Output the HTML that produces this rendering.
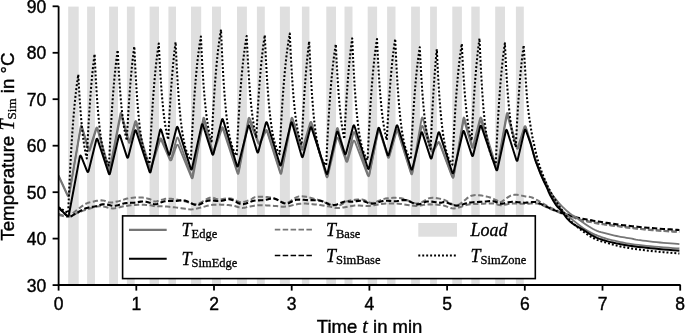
<!DOCTYPE html>
<html><head><meta charset="utf-8"><style>
html,body{margin:0;padding:0;background:#fff;width:685px;height:333px;overflow:hidden}
svg{display:block;will-change:transform}
</style></head><body>
<svg width="685" height="333" viewBox="0 0 685 333">
<rect x="68.2" y="6.6" width="10.5" height="278.4" fill="#dfdfdf"/>
<rect x="87.1" y="6.6" width="7.9" height="278.4" fill="#dfdfdf"/>
<rect x="109.1" y="6.6" width="8.9" height="278.4" fill="#dfdfdf"/>
<rect x="126.9" y="6.6" width="7.8" height="278.4" fill="#dfdfdf"/>
<rect x="149.6" y="6.6" width="9.4" height="278.4" fill="#dfdfdf"/>
<rect x="168.4" y="6.6" width="7.6" height="278.4" fill="#dfdfdf"/>
<rect x="191.0" y="6.6" width="10.2" height="278.4" fill="#dfdfdf"/>
<rect x="212.0" y="6.6" width="9.0" height="278.4" fill="#dfdfdf"/>
<rect x="237.0" y="6.6" width="9.9" height="278.4" fill="#dfdfdf"/>
<rect x="256.9" y="6.6" width="7.9" height="278.4" fill="#dfdfdf"/>
<rect x="279.9" y="6.6" width="10.0" height="278.4" fill="#dfdfdf"/>
<rect x="301.9" y="6.6" width="7.5" height="278.4" fill="#dfdfdf"/>
<rect x="326.3" y="6.6" width="9.7" height="278.4" fill="#dfdfdf"/>
<rect x="344.5" y="6.6" width="8.0" height="278.4" fill="#dfdfdf"/>
<rect x="367.7" y="6.6" width="9.4" height="278.4" fill="#dfdfdf"/>
<rect x="387.1" y="6.6" width="8.4" height="278.4" fill="#dfdfdf"/>
<rect x="411.1" y="6.6" width="8.8" height="278.4" fill="#dfdfdf"/>
<rect x="430.1" y="6.6" width="6.8" height="278.4" fill="#dfdfdf"/>
<rect x="452.3" y="6.6" width="9.6" height="278.4" fill="#dfdfdf"/>
<rect x="471.3" y="6.6" width="8.4" height="278.4" fill="#dfdfdf"/>
<rect x="495.2" y="6.6" width="9.8" height="278.4" fill="#dfdfdf"/>
<rect x="515.9" y="6.6" width="7.9" height="278.4" fill="#dfdfdf"/>
<defs><clipPath id="pc"><rect x="58.6" y="0" width="622" height="285"/></clipPath></defs>
<g clip-path="url(#pc)" fill="none" stroke-linejoin="round">
<polyline points="58.60,214.00 59.70,214.33 61.26,214.86 63.09,215.45 65.01,215.97 66.84,216.30 68.40,216.30 69.64,215.94 70.70,215.32 71.67,214.51 72.65,213.56 73.73,212.53 75.00,211.50 76.51,210.36 78.19,209.05 79.96,207.67 81.77,206.31 83.54,205.09 85.20,204.10 86.75,203.36 88.24,202.79 89.69,202.35 91.13,202.00 92.56,201.70 94.00,201.40 95.47,201.10 96.96,200.82 98.44,200.59 99.91,200.43 101.33,200.36 102.70,200.40 103.98,200.62 105.18,201.03 106.34,201.53 107.51,202.02 108.71,202.41 110.00,202.60 111.36,202.58 112.77,202.43 114.22,202.17 115.71,201.84 117.23,201.47 118.80,201.10 120.40,200.67 122.04,200.16 123.72,199.60 125.44,199.06 127.20,198.57 129.00,198.20 130.90,197.93 132.90,197.72 134.94,197.57 136.97,197.49 138.91,197.46 140.70,197.50 142.36,197.61 143.93,197.80 145.41,198.06 146.82,198.35 148.15,198.67 149.40,199.00 150.49,199.41 151.40,199.92 152.22,200.46 153.08,200.94 154.07,201.28 155.30,201.40 156.81,201.22 158.54,200.78 160.39,200.21 162.31,199.61 164.20,199.10 166.00,198.80 167.70,198.71 169.37,198.73 171.01,198.84 172.66,199.03 174.31,199.25 176.00,199.50 177.72,199.79 179.47,200.14 181.24,200.54 183.00,200.97 184.76,201.39 186.50,201.80 188.18,202.30 189.81,202.92 191.43,203.55 193.09,204.06 194.83,204.31 196.70,204.20 198.78,203.54 201.04,202.39 203.39,200.99 205.72,199.59 207.93,198.41 209.90,197.70 211.58,197.54 213.02,197.76 214.34,198.21 215.64,198.73 217.03,199.18 218.60,199.40 220.39,199.34 222.33,199.09 224.36,198.78 226.40,198.49 228.40,198.33 230.30,198.40 232.09,198.81 233.84,199.50 235.54,200.32 237.21,201.13 238.86,201.77 240.50,202.10 242.16,202.09 243.82,201.84 245.47,201.42 247.07,200.92 248.59,200.39 250.00,199.90 251.17,199.39 252.10,198.78 252.94,198.14 253.88,197.56 255.08,197.08 256.70,196.80 258.86,196.69 261.45,196.71 264.29,196.84 267.23,197.08 270.09,197.44 272.70,197.90 275.06,198.65 277.31,199.74 279.48,200.93 281.61,202.02 283.74,202.78 285.90,203.00 288.07,202.48 290.22,201.34 292.36,199.88 294.53,198.38 296.73,197.13 299.00,196.40 301.36,196.23 303.81,196.40 306.29,196.81 308.78,197.38 311.23,198.00 313.60,198.60 315.90,199.23 318.16,199.97 320.39,200.78 322.57,201.59 324.71,202.35 326.80,203.00 328.85,203.62 330.86,204.27 332.83,204.86 334.74,205.33 336.60,205.60 338.40,205.60 340.06,205.21 341.59,204.49 343.05,203.56 344.55,202.57 346.17,201.67 348.00,201.00 350.12,200.51 352.49,200.09 354.97,199.74 357.46,199.51 359.84,199.42 362.00,199.50 363.87,199.89 365.54,200.59 367.10,201.43 368.65,202.23 370.28,202.82 372.10,203.00 374.09,202.68 376.17,201.97 378.33,201.04 380.58,200.06 382.90,199.19 385.30,198.60 387.80,198.25 390.42,197.99 393.12,197.85 395.86,197.84 398.60,197.98 401.30,198.30 404.01,198.97 406.77,200.03 409.53,201.23 412.25,202.36 414.89,203.19 417.40,203.50 419.75,203.10 421.98,202.16 424.12,200.91 426.23,199.61 428.34,198.52 430.50,197.90 432.71,197.74 434.93,197.85 437.15,198.16 439.37,198.63 441.59,199.19 443.80,199.80 445.98,200.67 448.13,201.89 450.27,203.21 452.43,204.37 454.63,205.12 456.90,205.20 459.25,204.36 461.66,202.76 464.11,200.74 466.58,198.66 469.05,196.87 471.50,195.70 473.98,195.19 476.53,195.07 479.07,195.22 481.56,195.57 483.92,195.99 486.10,196.40 488.12,196.86 490.04,197.47 491.84,198.16 493.49,198.87 494.99,199.54 496.30,200.10 497.28,200.65 497.93,201.26 498.41,201.83 498.91,202.25 499.61,202.41 500.70,202.20 502.21,201.44 504.01,200.17 506.01,198.64 508.13,197.11 510.28,195.81 512.40,195.00 514.58,194.74 516.91,194.84 519.28,195.18 521.57,195.64 523.68,196.08 525.50,196.40 526.95,196.56 528.10,196.67 529.07,196.77 529.97,196.91 530.91,197.13 532.00,197.50 533.22,198.02 534.48,198.65 535.78,199.38 537.13,200.16 538.53,200.98 540.00,201.80 541.55,202.66 543.19,203.58 544.88,204.54 546.59,205.50 548.31,206.43 550.00,207.30 551.66,208.11 553.30,208.89 554.94,209.64 556.59,210.37 558.28,211.09 560.00,211.80 561.79,212.50 563.63,213.18 565.50,213.84 567.37,214.50 569.21,215.15 571.00,215.80 572.71,216.46 574.37,217.13 576.00,217.80 577.63,218.44 579.29,219.05 581.00,219.60 582.81,220.09 584.70,220.54 586.62,220.95 588.52,221.33 590.33,221.67 592.00,222.00 593.48,222.29 594.81,222.54 596.06,222.76 597.30,222.96 598.59,223.17 600.00,223.40 601.55,223.65 603.19,223.90 604.88,224.15 606.59,224.40 608.31,224.65 610.00,224.90 611.66,225.14 613.32,225.38 614.98,225.61 616.64,225.84 618.32,226.07 620.00,226.30 621.65,226.52 623.25,226.73 624.86,226.94 626.53,227.15 628.33,227.37 630.30,227.60 632.49,227.85 634.86,228.12 637.36,228.40 639.91,228.68 642.48,228.95 645.00,229.20 647.43,229.44 649.81,229.66 652.21,229.87 654.66,230.09 657.24,230.29 660.00,230.50 663.20,230.72 666.86,230.95 670.64,231.18 674.21,231.39 677.24,231.57 679.40,231.70" stroke="#767676" stroke-width="2.0" stroke-dasharray="5.3,2.5"/>
<polyline points="58.60,215.00 59.70,215.25 61.26,215.64 63.09,216.07 65.01,216.47 66.84,216.75 68.40,216.80 69.64,216.61 70.70,216.25 71.67,215.76 72.65,215.19 73.73,214.59 75.00,214.00 76.44,213.40 77.97,212.75 79.60,212.06 81.34,211.36 83.20,210.67 85.20,210.00 87.40,209.29 89.80,208.50 92.32,207.71 94.88,207.01 97.40,206.48 99.80,206.20 102.09,206.27 104.33,206.65 106.53,207.20 108.69,207.77 110.82,208.22 112.90,208.40 114.91,208.28 116.85,207.96 118.74,207.53 120.64,207.04 122.58,206.57 124.60,206.20 126.73,205.90 128.95,205.61 131.21,205.34 133.46,205.10 135.68,204.92 137.80,204.80 139.89,204.76 142.00,204.78 144.06,204.85 146.01,204.96 147.82,205.08 149.40,205.20 150.67,205.34 151.66,205.52 152.49,205.71 153.29,205.90 154.19,206.07 155.30,206.20 156.59,206.26 157.95,206.28 159.41,206.27 160.98,206.27 162.70,206.30 164.60,206.40 166.76,206.57 169.18,206.80 171.75,207.07 174.35,207.35 176.87,207.63 179.20,207.90 181.35,208.18 183.43,208.51 185.42,208.84 187.33,209.12 189.16,209.32 190.90,209.40 192.49,209.34 193.91,209.17 195.25,208.92 196.59,208.61 198.01,208.27 199.60,207.90 201.38,207.47 203.28,206.94 205.26,206.38 207.29,205.83 209.32,205.35 211.30,205.00 213.27,204.78 215.26,204.66 217.24,204.61 219.21,204.61 221.14,204.64 223.00,204.70 224.80,204.78 226.56,204.89 228.28,205.04 229.96,205.23 231.60,205.45 233.20,205.70 234.76,206.04 236.27,206.48 237.74,206.96 239.18,207.40 240.60,207.73 242.00,207.90 243.36,207.86 244.67,207.66 245.95,207.36 247.24,207.01 248.58,206.68 250.00,206.40 251.45,206.16 252.90,205.91 254.39,205.66 255.97,205.45 257.69,205.29 259.60,205.20 261.78,205.21 264.20,205.29 266.77,205.43 269.36,205.60 271.88,205.76 274.20,205.90 276.28,206.06 278.21,206.27 280.05,206.47 281.89,206.63 283.82,206.69 285.90,206.60 288.17,206.28 290.56,205.77 293.02,205.15 295.53,204.53 298.04,204.02 300.50,203.70 302.92,203.59 305.33,203.61 307.74,203.73 310.16,203.92 312.57,204.15 315.00,204.40 317.51,204.69 320.11,205.05 322.71,205.45 325.24,205.86 327.59,206.26 329.70,206.60 331.41,206.94 332.77,207.30 333.96,207.64 335.17,207.92 336.59,208.09 338.40,208.10 340.68,207.88 343.30,207.46 346.13,206.93 349.04,206.37 351.91,205.90 354.60,205.60 357.13,205.52 359.59,205.59 362.00,205.73 364.39,205.88 366.79,205.96 369.20,205.90 371.63,205.65 374.07,205.27 376.50,204.82 378.93,204.36 381.37,203.97 383.80,203.70 386.20,203.55 388.56,203.46 390.92,203.42 393.32,203.46 395.80,203.55 398.40,203.70 401.22,203.98 404.23,204.41 407.33,204.89 410.39,205.36 413.29,205.72 415.90,205.90 418.15,205.84 420.12,205.59 421.92,205.24 423.69,204.87 425.54,204.56 427.60,204.40 429.91,204.37 432.39,204.40 434.95,204.50 437.51,204.66 439.99,204.90 442.30,205.20 444.39,205.69 446.31,206.39 448.16,207.15 450.00,207.85 451.92,208.34 454.00,208.50 456.28,208.22 458.71,207.59 461.21,206.75 463.74,205.86 466.22,205.06 468.60,204.50 470.89,204.19 473.13,204.01 475.33,203.92 477.49,203.88 479.62,203.86 481.70,203.80 483.78,203.70 485.87,203.60 487.91,203.50 489.88,203.44 491.72,203.43 493.40,203.50 494.82,203.71 496.00,204.04 497.05,204.43 498.10,204.80 499.28,205.08 500.70,205.20 502.38,205.10 504.22,204.84 506.19,204.49 508.23,204.12 510.32,203.80 512.40,203.60 514.54,203.53 516.80,203.55 519.09,203.62 521.35,203.70 523.51,203.77 525.50,203.80 527.34,203.77 529.10,203.70 530.76,203.61 532.30,203.54 533.72,203.49 535.00,203.50 536.04,203.53 536.81,203.55 537.47,203.60 538.13,203.72 538.93,203.94 540.00,204.30 541.38,204.84 542.96,205.54 544.69,206.35 546.48,207.20 548.28,208.04 550.00,208.80 551.66,209.50 553.30,210.18 554.94,210.84 556.59,211.50 558.28,212.15 560.00,212.80 561.79,213.45 563.63,214.09 565.50,214.72 567.37,215.35 569.21,215.97 571.00,216.60 572.71,217.24 574.37,217.90 576.00,218.56 577.63,219.19 579.29,219.78 581.00,220.30 582.81,220.75 584.70,221.14 586.62,221.49 588.52,221.80 590.33,222.10 592.00,222.40 593.48,222.69 594.81,222.95 596.06,223.19 597.30,223.43 598.59,223.66 600.00,223.90 601.55,224.14 603.19,224.38 604.88,224.61 606.59,224.84 608.31,225.07 610.00,225.30 611.66,225.52 613.32,225.74 614.98,225.96 616.64,226.17 618.32,226.38 620.00,226.60 621.65,226.81 623.25,227.02 624.86,227.23 626.53,227.44 628.33,227.67 630.30,227.90 632.49,228.15 634.86,228.42 637.36,228.70 639.91,228.98 642.48,229.25 645.00,229.50 647.43,229.74 649.81,229.96 652.21,230.17 654.66,230.39 657.24,230.59 660.00,230.80 663.20,231.02 666.86,231.25 670.64,231.48 674.21,231.69 677.24,231.87 679.40,232.00" stroke="#767676" stroke-width="2.0" stroke-dasharray="5.3,2.5"/>
<polyline points="58.60,207.50 59.70,208.59 61.26,210.19 63.09,212.04 65.01,213.86 66.84,215.37 68.40,216.30 69.64,216.60 70.70,216.47 71.67,216.04 72.65,215.41 73.73,214.70 75.00,214.00 76.49,213.23 78.13,212.28 79.88,211.24 81.67,210.21 83.46,209.26 85.20,208.50 86.92,207.94 88.65,207.52 90.39,207.19 92.10,206.90 93.78,206.62 95.40,206.30 96.93,205.90 98.39,205.46 99.80,205.01 101.21,204.62 102.67,204.33 104.20,204.20 105.82,204.30 107.50,204.61 109.21,205.02 110.95,205.43 112.68,205.73 114.40,205.80 116.10,205.60 117.80,205.20 119.50,204.69 121.20,204.15 122.90,203.66 124.60,203.30 126.32,203.08 128.05,202.95 129.79,202.87 131.50,202.80 133.18,202.72 134.80,202.60 136.38,202.40 137.93,202.14 139.44,201.87 140.90,201.63 142.29,201.46 143.60,201.40 144.81,201.48 145.93,201.67 146.99,201.94 148.00,202.24 149.00,202.54 150.00,202.80 150.97,203.08 151.87,203.43 152.75,203.77 153.67,204.05 154.67,204.22 155.80,204.20 157.08,203.94 158.46,203.46 159.93,202.86 161.45,202.23 163.02,201.68 164.60,201.30 166.22,201.10 167.90,201.01 169.61,200.99 171.35,201.01 173.08,201.03 174.80,201.00 176.48,200.88 178.14,200.70 179.81,200.51 181.49,200.38 183.21,200.39 185.00,200.60 186.86,201.16 188.79,202.04 190.76,203.05 192.74,204.01 194.73,204.72 196.70,205.00 198.65,204.72 200.60,204.01 202.55,203.05 204.50,202.04 206.45,201.16 208.40,200.60 210.37,200.41 212.36,200.45 214.34,200.62 216.31,200.84 218.24,200.99 220.10,201.00 221.87,200.78 223.56,200.38 225.20,199.93 226.84,199.53 228.53,199.32 230.30,199.40 232.16,199.92 234.09,200.83 236.05,201.91 238.04,202.97 240.03,203.80 242.00,204.20 243.98,204.08 245.99,203.57 247.99,202.84 249.98,202.04 251.92,201.31 253.80,200.80 255.59,200.54 257.32,200.40 259.00,200.33 260.66,200.29 262.32,200.23 264.00,200.10 265.68,199.82 267.34,199.41 269.01,198.99 270.69,198.64 272.41,198.48 274.20,198.60 276.08,199.17 278.04,200.14 280.05,201.30 282.06,202.42 284.02,203.29 285.90,203.70 287.67,203.52 289.36,202.91 291.00,202.05 292.64,201.12 294.33,200.31 296.10,199.80 297.95,199.60 299.84,199.57 301.77,199.66 303.74,199.81 305.75,199.98 307.80,200.10 309.92,200.15 312.11,200.17 314.35,200.19 316.59,200.28 318.78,200.46 320.90,200.80 322.92,201.41 324.88,202.29 326.79,203.28 328.70,204.20 330.63,204.89 332.60,205.20 334.69,205.01 336.89,204.42 339.11,203.61 341.26,202.74 343.26,201.98 345.00,201.50 346.41,201.33 347.53,201.35 348.49,201.48 349.42,201.65 350.45,201.78 351.70,201.80 353.20,201.66 354.84,201.42 356.58,201.14 358.37,200.89 360.16,200.76 361.90,200.80 363.58,201.12 365.24,201.69 366.91,202.37 368.59,203.02 370.31,203.51 372.10,203.70 373.96,203.51 375.89,203.04 377.86,202.41 379.84,201.74 381.83,201.16 383.80,200.80 385.77,200.69 387.76,200.74 389.74,200.89 391.71,201.06 393.64,201.18 395.50,201.20 397.27,201.04 398.96,200.74 400.60,200.41 402.24,200.12 403.93,199.99 405.70,200.10 407.58,200.59 409.54,201.40 411.55,202.36 413.56,203.30 415.52,204.04 417.40,204.40 419.16,204.29 420.83,203.81 422.46,203.14 424.09,202.43 425.79,201.83 427.60,201.50 429.62,201.48 431.84,201.66 434.11,201.95 436.32,202.27 438.32,202.55 440.00,202.70 441.21,202.67 442.03,202.51 442.64,202.31 443.25,202.14 444.04,202.08 445.20,202.20 446.77,202.61 448.62,203.28 450.64,204.05 452.76,204.79 454.87,205.35 456.90,205.60 458.83,205.46 460.75,205.03 462.66,204.42 464.60,203.75 466.57,203.14 468.60,202.70 470.72,202.43 472.91,202.24 475.15,202.11 477.39,202.00 479.58,201.91 481.70,201.80 483.78,201.65 485.87,201.46 487.91,201.29 489.88,201.16 491.72,201.12 493.40,201.20 494.82,201.49 496.00,201.97 497.05,202.53 498.10,203.08 499.28,203.50 500.70,203.70 502.40,203.61 504.28,203.29 506.28,202.85 508.34,202.39 510.40,202.01 512.40,201.80 514.35,201.81 516.30,201.95 518.24,202.18 520.18,202.41 522.10,202.61 524.00,202.70 525.94,202.65 527.93,202.50 529.91,202.31 531.80,202.12 533.52,202.00 535.00,202.00 536.12,202.10 536.93,202.25 537.56,202.46 538.19,202.75 538.95,203.13 540.00,203.60 541.38,204.21 542.96,204.96 544.69,205.80 546.48,206.67 548.28,207.52 550.00,208.30 551.66,209.01 553.30,209.70 554.94,210.37 556.59,211.02 558.28,211.66 560.00,212.30 561.79,212.94 563.63,213.57 565.50,214.19 567.37,214.80 569.21,215.37 571.00,215.90 572.74,216.39 574.44,216.84 576.12,217.27 577.78,217.67 579.40,218.04 581.00,218.40 582.55,218.73 584.04,219.03 585.50,219.30 586.96,219.56 588.45,219.83 590.00,220.10 591.61,220.38 593.26,220.67 594.94,220.96 596.63,221.24 598.32,221.52 600.00,221.80 601.67,222.07 603.33,222.35 605.00,222.62 606.67,222.89 608.33,223.15 610.00,223.40 611.66,223.65 613.32,223.89 614.98,224.12 616.64,224.36 618.32,224.58 620.00,224.80 621.65,225.01 623.25,225.20 624.86,225.39 626.53,225.59 628.33,225.78 630.30,226.00 632.49,226.24 634.86,226.49 637.36,226.75 639.91,227.01 642.48,227.26 645.00,227.50 647.43,227.72 649.81,227.92 652.21,228.11 654.66,228.30 657.24,228.50 660.00,228.70 663.20,228.93 666.86,229.17 670.64,229.42 674.21,229.66 677.24,229.86 679.40,230.00" stroke="#000" stroke-width="2.1" stroke-dasharray="5.3,2.5"/>
<polyline points="58.60,176.50 67.13,194.92 67.60,195.80 68.01,196.31 68.38,196.44 68.70,196.21 68.97,195.62 69.20,194.65 80.60,128.85 80.81,127.89 81.04,127.31 81.29,127.10 81.57,127.28 81.86,127.83 82.18,128.76 88.12,149.24 88.45,150.17 88.78,150.73 89.11,150.92 89.45,150.74 89.79,150.18 90.13,149.26 95.87,130.74 96.21,129.82 96.54,129.26 96.88,129.08 97.20,129.27 97.52,129.83 97.84,130.77 108.56,169.23 108.87,170.16 109.16,170.72 109.43,170.90 109.69,170.70 109.94,170.12 110.17,169.17 120.23,117.83 120.46,116.88 120.71,116.30 120.97,116.10 121.24,116.28 121.53,116.84 121.84,117.77 128.36,141.23 128.68,142.16 128.99,142.73 129.31,142.92 129.63,142.73 129.95,142.17 130.27,141.24 134.73,125.76 135.05,124.83 135.38,124.27 135.71,124.08 136.04,124.26 136.37,124.82 136.70,125.75 149.20,167.65 149.53,168.58 149.87,169.14 150.22,169.33 150.57,169.15 150.92,168.59 151.27,167.67 159.53,142.03 159.89,141.10 160.28,140.54 160.68,140.33 161.10,140.50 161.54,141.02 162.00,141.91 169.40,158.89 169.86,159.78 170.31,160.31 170.74,160.47 171.16,160.27 171.56,159.71 171.95,158.79 176.25,146.41 176.64,145.49 177.04,144.93 177.44,144.74 177.86,144.91 178.28,145.44 178.72,146.34 191.08,176.76 191.50,177.65 191.89,178.18 192.23,178.33 192.54,178.11 192.81,177.52 193.04,176.56 203.06,122.84 203.28,121.88 203.51,121.31 203.76,121.11 204.02,121.29 204.29,121.85 204.58,122.79 212.02,151.41 212.32,152.36 212.64,152.93 212.97,153.13 213.31,152.95 213.67,152.41 214.05,151.49 221.25,130.71 221.63,129.79 222.01,129.24 222.39,129.06 222.76,129.25 223.13,129.80 223.49,130.73 237.11,172.27 237.46,173.19 237.79,173.74 238.09,173.91 238.37,173.70 238.62,173.12 238.85,172.16 248.25,122.84 248.48,121.88 248.75,121.29 249.05,121.07 249.39,121.23 249.76,121.76 250.17,122.66 257.83,142.34 258.26,143.25 258.70,143.80 259.15,143.99 259.62,143.83 260.10,143.31 260.58,142.43 265.02,132.97 265.50,132.09 265.96,131.58 266.39,131.43 266.80,131.64 267.19,132.21 267.56,133.14 279.94,172.26 280.28,173.19 280.60,173.74 280.90,173.91 281.18,173.70 281.43,173.12 281.66,172.16 291.14,122.84 291.37,121.88 291.63,121.30 291.91,121.09 292.21,121.26 292.54,121.80 292.89,122.72 301.31,148.28 301.67,149.20 302.03,149.75 302.38,149.93 302.73,149.74 303.07,149.18 303.41,148.25 309.89,126.75 310.23,125.82 310.56,125.26 310.89,125.08 311.22,125.27 311.55,125.83 311.88,126.76 326.12,175.74 326.44,176.67 326.75,177.23 327.06,177.41 327.35,177.21 327.63,176.64 327.90,175.69 336.50,139.31 336.77,138.36 337.07,137.78 337.39,137.58 337.72,137.75 338.07,138.29 338.45,139.21 345.75,160.29 346.13,161.21 346.50,161.76 346.85,161.93 347.20,161.74 347.53,161.17 347.85,160.23 352.95,142.27 353.27,141.33 353.61,140.76 353.97,140.56 354.35,140.73 354.74,141.27 355.14,142.17 367.46,174.63 367.86,175.53 368.23,176.06 368.56,176.22 368.87,176.01 369.15,175.43 369.40,174.47 378.10,131.83 378.34,130.87 378.60,130.30 378.88,130.09 379.18,130.27 379.50,130.82 379.84,131.74 387.46,156.26 387.81,157.19 388.14,157.74 388.48,157.92 388.81,157.73 389.14,157.17 389.46,156.23 396.14,132.77 396.46,131.83 396.79,131.27 397.12,131.08 397.46,131.26 397.80,131.81 398.15,132.74 410.75,172.76 411.09,173.69 411.41,174.23 411.71,174.41 411.99,174.20 412.24,173.62 412.48,172.67 421.42,127.53 421.66,126.58 421.92,125.99 422.21,125.79 422.53,125.95 422.87,126.49 423.23,127.41 431.07,150.29 431.46,151.21 431.88,151.79 432.33,152.00 432.81,151.86 433.33,151.37 433.87,150.52 437.13,144.48 437.68,143.63 438.20,143.13 438.69,142.99 439.16,143.20 439.61,143.76 440.03,144.68 451.97,176.32 452.36,177.23 452.72,177.76 453.04,177.92 453.33,177.70 453.59,177.12 453.81,176.15 463.19,122.85 463.41,121.89 463.64,121.31 463.89,121.10 464.17,121.28 464.46,121.83 464.78,122.76 471.62,146.24 471.95,147.17 472.27,147.73 472.58,147.91 472.89,147.72 473.20,147.16 473.51,146.22 479.79,122.78 480.10,121.84 480.41,121.27 480.74,121.08 481.07,121.26 481.41,121.81 481.76,122.74 495.84,167.26 496.18,168.19 496.50,168.73 496.79,168.90 497.06,168.70 497.30,168.12 497.53,167.16 506.47,117.84 506.69,116.88 506.93,116.30 507.18,116.10 507.46,116.28 507.75,116.83 508.06,117.77 516.44,147.23 516.76,148.17 517.09,148.73 517.43,148.92 517.77,148.74 518.11,148.19 518.46,147.26 524.04,129.74 524.39,128.81 524.75,128.25 525.11,128.06 525.47,128.25 525.83,128.80 526.20,129.72 530.20,141.80 530.97,144.38 531.70,147.05 532.42,149.80 533.15,152.59 533.93,155.40 534.80,158.20 535.77,161.06 536.83,164.00 537.93,166.97 539.05,169.87 540.15,172.64 541.20,175.20 542.19,177.52 543.14,179.65 544.08,181.64 545.00,183.55 545.94,185.42 546.90,187.30 547.86,189.16 548.80,190.96 549.74,192.72 550.73,194.46 551.77,196.22 552.90,198.00 554.14,199.85 555.47,201.76 556.87,203.67 558.29,205.54 559.71,207.34 561.10,209.00 562.39,210.47 563.58,211.77 564.78,212.99 566.05,214.21 567.50,215.52 569.20,217.00 571.24,218.73 573.57,220.65 576.08,222.66 578.63,224.65 581.11,226.51 583.40,228.14 585.49,229.51 587.49,230.72 589.41,231.80 591.29,232.79 593.18,233.71 595.10,234.60 597.05,235.45 599.00,236.22 600.95,236.93 602.90,237.59 604.85,238.21 606.80,238.80 608.73,239.35 610.64,239.85 612.55,240.31 614.48,240.74 616.46,241.17 618.50,241.60 620.52,242.03 622.47,242.46 624.47,242.87 626.62,243.28 629.03,243.69 631.80,244.10 635.00,244.52 638.56,244.96 642.37,245.39 646.34,245.81 650.39,246.22 654.40,246.60 658.72,246.97 663.48,247.35 668.31,247.71 672.83,248.03 676.65,248.30 679.40,248.50" stroke="#767676" stroke-width="1.8"/>
<polyline points="58.60,175.50 67.13,193.92 67.60,194.80 68.01,195.31 68.38,195.44 68.70,195.21 68.97,194.62 69.19,193.65 80.61,127.25 80.82,126.29 81.05,125.71 81.30,125.50 81.57,125.68 81.87,126.23 82.19,127.16 88.11,147.24 88.44,148.18 88.78,148.74 89.12,148.93 89.46,148.74 89.80,148.19 90.15,147.26 95.85,129.14 96.20,128.21 96.54,127.66 96.87,127.48 97.20,127.67 97.53,128.23 97.85,129.17 108.55,167.23 108.86,168.16 109.15,168.72 109.43,168.90 109.69,168.70 109.93,168.12 110.16,167.16 120.24,114.44 120.47,113.48 120.71,112.90 120.96,112.70 121.23,112.88 121.51,113.44 121.80,114.38 128.40,139.12 128.70,140.06 129.00,140.62 129.31,140.81 129.61,140.62 129.92,140.06 130.23,139.13 134.77,122.67 135.08,121.74 135.40,121.17 135.71,120.98 136.03,121.17 136.35,121.73 136.68,122.66 149.22,165.64 149.55,166.57 149.88,167.14 150.22,167.33 150.57,167.15 150.92,166.59 151.27,165.67 159.53,140.03 159.89,139.10 160.28,138.54 160.68,138.33 161.10,138.50 161.54,139.02 162.00,139.91 169.40,156.89 169.85,157.78 170.28,158.30 170.68,158.45 171.05,158.24 171.40,157.67 171.72,156.72 176.48,139.18 176.79,138.24 177.12,137.67 177.46,137.47 177.81,137.64 178.18,138.19 178.55,139.10 190.85,174.30 191.22,175.21 191.56,175.75 191.87,175.91 192.16,175.70 192.42,175.12 192.65,174.16 203.05,119.34 203.27,118.38 203.50,117.81 203.75,117.61 204.00,117.79 204.27,118.35 204.55,119.30 212.05,149.40 212.34,150.35 212.65,150.92 212.98,151.12 213.32,150.95 213.68,150.41 214.05,149.49 221.25,128.81 221.63,127.89 222.01,127.34 222.39,127.16 222.76,127.35 223.13,127.90 223.49,128.83 237.11,170.27 237.46,171.20 237.79,171.74 238.09,171.91 238.36,171.70 238.61,171.12 238.84,170.16 248.26,119.44 248.49,118.48 248.75,117.90 249.04,117.68 249.36,117.85 249.71,118.38 250.09,119.29 257.91,140.91 258.31,141.83 258.73,142.38 259.17,142.58 259.62,142.42 260.09,141.90 260.58,141.03 265.02,131.47 265.50,130.60 265.96,130.08 266.39,129.93 266.81,130.14 267.19,130.71 267.56,131.64 279.94,170.76 280.28,171.69 280.60,172.23 280.90,172.41 281.17,172.20 281.41,171.62 281.64,170.66 291.16,119.44 291.39,118.48 291.63,117.90 291.91,117.69 292.20,117.86 292.52,118.41 292.86,119.33 301.34,145.87 301.69,146.79 302.04,147.34 302.38,147.53 302.72,147.34 303.05,146.77 303.38,145.84 309.92,123.56 310.24,122.63 310.57,122.07 310.89,121.88 311.21,122.07 311.53,122.63 311.84,123.57 326.16,174.73 326.46,175.66 326.76,176.22 327.03,176.40 327.30,176.20 327.54,175.62 327.77,174.67 336.63,129.63 336.86,128.68 337.10,128.10 337.36,127.90 337.63,128.08 337.92,128.64 338.21,129.58 345.99,158.32 346.29,159.26 346.58,159.82 346.86,160.00 347.14,159.81 347.40,159.23 347.66,158.28 353.14,133.72 353.40,132.77 353.68,132.19 353.97,131.99 354.28,132.16 354.61,132.71 354.96,133.64 367.64,173.76 367.99,174.69 368.31,175.24 368.61,175.41 368.89,175.20 369.15,174.62 369.39,173.67 378.11,130.33 378.35,129.38 378.61,128.80 378.89,128.59 379.19,128.77 379.50,129.32 379.84,130.24 387.46,154.76 387.80,155.69 388.14,156.24 388.48,156.42 388.81,156.23 389.13,155.67 389.46,154.73 396.14,131.17 396.47,130.23 396.79,129.67 397.12,129.48 397.46,129.66 397.80,130.21 398.14,131.14 410.76,171.66 411.09,172.58 411.40,173.13 411.69,173.30 411.95,173.10 412.19,172.51 412.40,171.55 421.50,119.25 421.71,118.29 421.94,117.71 422.19,117.50 422.45,117.68 422.74,118.24 423.05,119.17 431.25,148.33 431.59,149.28 431.97,149.87 432.40,150.10 432.88,149.98 433.40,149.51 433.97,148.68 437.03,143.42 437.61,142.59 438.15,142.11 438.67,141.97 439.15,142.19 439.61,142.76 440.03,143.68 451.97,175.32 452.36,176.23 452.72,176.76 453.04,176.92 453.32,176.70 453.57,176.11 453.78,175.15 463.22,119.25 463.42,118.29 463.64,117.71 463.89,117.51 464.15,117.68 464.43,118.24 464.73,119.17 471.67,144.23 471.98,145.16 472.28,145.72 472.58,145.91 472.88,145.72 473.17,145.15 473.46,144.21 479.84,119.19 480.13,118.25 480.43,117.68 480.74,117.49 481.06,117.67 481.38,118.22 481.72,119.15 495.88,165.75 496.21,166.68 496.52,167.23 496.80,167.40 497.06,167.20 497.29,166.61 497.51,165.65 506.49,114.65 506.70,113.69 506.93,113.11 507.18,112.91 507.44,113.08 507.73,113.64 508.03,114.58 516.47,145.32 516.79,146.26 517.11,146.83 517.43,147.02 517.77,146.84 518.11,146.29 518.46,145.36 524.04,127.74 524.39,126.81 524.74,126.25 525.09,126.07 525.44,126.26 525.78,126.82 526.13,127.75 530.20,141.00 530.97,143.60 531.70,146.24 532.42,148.91 533.15,151.59 533.93,154.29 534.80,157.00 535.78,159.81 536.86,162.74 537.99,165.69 539.12,168.54 540.21,171.18 541.20,173.50 542.10,175.43 542.93,177.04 543.72,178.44 544.48,179.74 545.24,181.06 546.00,182.50 546.75,184.07 547.47,185.69 548.17,187.31 548.90,188.93 549.67,190.50 550.50,192.00 551.41,193.43 552.39,194.82 553.41,196.17 554.44,197.48 555.48,198.75 556.50,200.00 557.48,201.20 558.44,202.36 559.41,203.48 560.39,204.59 561.41,205.69 562.50,206.80 563.68,207.96 564.94,209.15 566.25,210.34 567.56,211.49 568.82,212.55 570.00,213.50 571.07,214.28 572.06,214.92 573.01,215.48 573.95,216.02 574.94,216.60 576.00,217.30 577.10,218.09 578.20,218.94 579.34,219.82 580.56,220.76 581.90,221.74 583.40,222.77 585.10,223.92 586.98,225.18 588.98,226.50 591.04,227.79 593.10,228.98 595.10,230.00 597.05,230.83 599.00,231.53 600.95,232.13 602.90,232.67 604.85,233.18 606.80,233.70 608.75,234.22 610.70,234.70 612.64,235.16 614.59,235.59 616.54,236.00 618.50,236.40 620.49,236.78 622.50,237.13 624.52,237.46 626.52,237.77 628.45,238.09 630.30,238.40 631.92,238.71 633.31,239.00 634.64,239.28 636.08,239.57 637.81,239.87 640.00,240.20 642.74,240.56 645.93,240.96 649.39,241.36 653.00,241.77 656.58,242.15 660.00,242.50 663.49,242.83 667.23,243.14 670.95,243.44 674.39,243.71 677.30,243.93 679.40,244.10" stroke="#767676" stroke-width="1.8"/>
<polyline points="58.60,207.50 66.29,215.27 66.95,215.84 67.52,216.12 68.01,216.13 68.41,215.85 68.73,215.29 68.96,214.45 79.74,157.15 79.95,156.32 80.18,155.82 80.44,155.63 80.73,155.77 81.06,156.22 81.42,156.98 86.88,170.62 87.24,171.39 87.58,171.84 87.90,171.98 88.20,171.80 88.47,171.30 88.72,170.49 96.18,140.21 96.43,139.40 96.68,138.91 96.95,138.74 97.24,138.89 97.53,139.36 97.84,140.15 108.56,172.85 108.87,173.64 109.16,174.11 109.44,174.26 109.70,174.09 109.95,173.59 110.19,172.78 118.71,136.52 118.95,135.71 119.20,135.22 119.46,135.04 119.73,135.19 120.02,135.66 120.33,136.45 126.77,156.35 127.08,157.14 127.37,157.61 127.65,157.76 127.92,157.59 128.19,157.10 128.44,156.29 134.66,131.71 134.91,130.90 135.18,130.41 135.45,130.24 135.73,130.39 136.03,130.86 136.34,131.65 149.26,171.05 149.57,171.84 149.86,172.31 150.13,172.46 150.39,172.28 150.63,171.79 150.86,170.97 159.94,130.83 160.16,130.01 160.40,129.52 160.65,129.35 160.92,129.50 161.19,129.97 161.48,130.77 168.42,153.43 168.71,154.23 168.99,154.70 169.27,154.86 169.53,154.69 169.79,154.20 170.04,153.39 176.46,128.31 176.71,127.50 176.97,127.01 177.24,126.84 177.52,127.00 177.80,127.47 178.10,128.26 190.60,168.14 190.89,168.93 191.17,169.40 191.44,169.55 191.69,169.38 191.93,168.89 192.15,168.07 201.55,125.63 201.77,124.81 202.01,124.32 202.27,124.15 202.53,124.30 202.82,124.77 203.11,125.56 211.99,153.34 212.29,154.13 212.57,154.61 212.85,154.76 213.12,154.59 213.37,154.10 213.62,153.29 221.68,120.51 221.93,119.70 222.18,119.21 222.44,119.05 222.71,119.20 222.98,119.68 223.27,120.47 236.73,165.13 237.02,165.92 237.30,166.40 237.57,166.55 237.83,166.39 238.09,165.90 238.33,165.09 247.97,126.91 248.21,126.10 248.47,125.61 248.73,125.44 249.01,125.60 249.28,126.07 249.57,126.87 256.93,151.13 257.22,151.93 257.50,152.40 257.77,152.56 258.04,152.39 258.30,151.90 258.56,151.10 265.74,123.60 266.00,122.80 266.26,122.31 266.53,122.14 266.80,122.30 267.09,122.77 267.37,123.57 279.73,164.13 280.01,164.93 280.29,165.40 280.55,165.55 280.81,165.38 281.06,164.89 281.29,164.08 290.81,123.82 291.04,123.01 291.29,122.52 291.54,122.35 291.79,122.51 292.06,122.98 292.33,123.78 301.57,155.72 301.84,156.52 302.11,157.00 302.38,157.15 302.64,156.99 302.90,156.50 303.15,155.70 310.15,128.70 310.40,127.90 310.67,127.41 310.94,127.24 311.23,127.39 311.52,127.86 311.83,128.65 326.17,172.65 326.47,173.44 326.76,173.91 327.03,174.06 327.29,173.88 327.53,173.39 327.76,172.57 336.64,133.03 336.87,132.21 337.11,131.72 337.36,131.55 337.63,131.70 337.91,132.17 338.20,132.96 344.50,152.84 344.79,153.63 345.08,154.11 345.37,154.26 345.64,154.09 345.91,153.61 346.17,152.80 353.03,126.80 353.29,125.99 353.56,125.51 353.83,125.34 354.12,125.49 354.41,125.97 354.70,126.76 367.60,167.54 367.89,168.33 368.17,168.80 368.44,168.95 368.70,168.78 368.94,168.29 369.18,167.48 378.02,129.22 378.26,128.41 378.50,127.92 378.75,127.75 379.02,127.90 379.30,128.37 379.59,129.17 387.31,154.03 387.60,154.83 387.89,155.30 388.17,155.46 388.44,155.29 388.71,154.81 388.97,154.00 396.23,126.80 396.49,125.99 396.76,125.51 397.03,125.34 397.31,125.49 397.60,125.97 397.90,126.76 410.90,168.24 411.20,169.03 411.48,169.50 411.75,169.66 412.02,169.49 412.27,169.00 412.52,168.19 420.98,133.71 421.23,132.90 421.49,132.41 421.75,132.24 422.03,132.39 422.32,132.86 422.63,133.65 430.27,157.15 430.58,157.94 430.87,158.41 431.16,158.56 431.43,158.39 431.70,157.90 431.96,157.10 438.04,133.70 438.30,132.90 438.57,132.41 438.84,132.24 439.13,132.39 439.42,132.86 439.72,133.66 452.08,171.94 452.38,172.74 452.67,173.21 452.94,173.36 453.20,173.18 453.44,172.69 453.68,171.88 462.82,132.42 463.06,131.61 463.30,131.12 463.56,130.94 463.84,131.09 464.13,131.56 464.43,132.35 471.67,154.65 471.98,155.44 472.27,155.91 472.55,156.06 472.81,155.89 473.07,155.40 473.31,154.59 479.99,127.21 480.23,126.40 480.49,125.91 480.76,125.74 481.05,125.89 481.35,126.35 481.67,127.14 495.93,168.96 496.25,169.75 496.54,170.21 496.82,170.36 497.08,170.18 497.32,169.69 497.54,168.87 505.76,131.33 505.98,130.51 506.22,130.02 506.47,129.85 506.73,130.00 507.01,130.47 507.30,131.26 516.20,159.44 516.49,160.23 516.77,160.70 517.05,160.85 517.30,160.68 517.55,160.19 517.79,159.38 524.41,131.12 524.65,130.31 524.91,129.81 525.18,129.64 525.47,129.78 525.79,130.24 526.11,131.02 530.20,142.40 531.02,145.00 531.85,147.87 532.67,150.83 533.45,153.71 534.17,156.32 534.80,158.50 535.31,160.12 535.70,161.30 536.04,162.22 536.36,163.06 536.73,163.99 537.20,165.20 537.75,166.67 538.35,168.26 538.99,169.95 539.68,171.71 540.42,173.54 541.20,175.40 542.08,177.38 543.06,179.52 544.09,181.72 545.11,183.88 546.07,185.90 546.90,187.70 547.56,189.20 548.07,190.46 548.52,191.58 548.98,192.68 549.52,193.85 550.20,195.20 551.07,196.80 552.07,198.59 553.16,200.46 554.26,202.29 555.33,203.97 556.30,205.40 557.16,206.50 557.95,207.33 558.70,208.03 559.45,208.69 560.24,209.44 561.10,210.40 562.04,211.61 563.04,213.00 564.07,214.47 565.12,215.96 566.17,217.36 567.20,218.60 568.17,219.66 569.09,220.59 570.00,221.44 570.97,222.26 572.05,223.10 573.30,224.00 574.73,224.95 576.31,225.91 578.00,226.88 579.77,227.87 581.58,228.90 583.40,229.96 585.26,231.11 587.18,232.34 589.15,233.60 591.14,234.83 593.13,235.98 595.10,237.00 597.05,237.87 599.00,238.64 600.95,239.32 602.90,239.95 604.85,240.53 606.80,241.10 608.73,241.64 610.64,242.12 612.55,242.56 614.48,242.98 616.46,243.39 618.50,243.80 620.52,244.20 622.47,244.59 624.47,244.96 626.62,245.33 629.03,245.71 631.80,246.10 635.00,246.51 638.56,246.93 642.37,247.36 646.34,247.78 650.39,248.20 654.40,248.60 658.72,249.01 663.48,249.44 668.31,249.86 672.83,250.24 676.65,250.56 679.40,250.80" stroke="#000" stroke-width="2"/>
<polyline points="58.60,207.50 68.20,213.00 69.04,192.61 69.88,174.51 70.72,158.42 71.57,144.14 72.41,131.45 73.25,120.18 74.09,110.17 74.93,101.28 75.78,93.38 76.62,86.36 77.46,80.13 78.30,74.60 79.01,87.87 79.72,99.46 80.42,109.56 81.13,118.38 81.84,126.08 82.55,132.80 83.26,138.66 83.97,143.78 84.67,148.24 85.38,152.13 86.09,155.53 86.80,158.50 87.45,144.80 88.10,132.30 88.75,120.89 89.40,110.48 90.05,100.98 90.70,92.31 91.35,84.40 92.00,77.19 92.65,70.60 93.30,64.59 93.95,59.10 94.60,54.10 95.80,78.59 97.00,98.04 98.20,113.48 99.40,125.73 100.60,135.46 101.80,143.19 103.00,149.32 104.20,154.19 105.40,158.06 106.60,161.13 107.80,163.57 109.00,165.50 109.72,149.64 110.45,135.32 111.17,122.39 111.90,110.72 112.62,100.18 113.35,90.66 114.08,82.06 114.80,74.30 115.53,67.30 116.25,60.97 116.98,55.26 117.70,50.10 118.46,64.95 119.22,77.78 119.97,88.87 120.73,98.46 121.49,106.74 122.25,113.90 123.01,120.09 123.77,125.44 124.53,130.07 125.28,134.06 126.04,137.51 126.80,140.50 127.42,128.36 128.05,117.24 128.68,107.05 129.30,97.73 129.93,89.19 130.55,81.37 131.18,74.21 131.80,67.65 132.43,61.65 133.05,56.15 133.68,51.11 134.30,46.50 135.57,73.28 136.83,94.27 138.10,110.72 139.37,123.61 140.63,133.72 141.90,141.64 143.17,147.85 144.43,152.72 145.70,156.53 146.97,159.52 148.23,161.86 149.50,163.70 150.28,146.68 151.05,131.41 151.82,117.73 152.60,105.46 153.38,94.46 154.15,84.59 154.93,75.75 155.70,67.82 156.48,60.71 157.25,54.34 158.03,48.62 158.80,43.50 159.58,59.58 160.37,73.40 161.15,85.30 161.93,95.53 162.72,104.33 163.50,111.90 164.28,118.41 165.07,124.01 165.85,128.83 166.63,132.97 167.42,136.53 168.20,139.60 168.82,127.07 169.43,115.58 170.05,105.05 170.67,95.40 171.28,86.54 171.90,78.43 172.52,70.99 173.13,64.16 173.75,57.91 174.37,52.18 174.98,46.92 175.60,42.10 176.88,69.16 178.15,90.34 179.43,106.92 180.70,119.89 181.97,130.04 183.25,137.98 184.53,144.20 185.80,149.06 187.07,152.87 188.35,155.84 189.62,158.18 190.90,160.00 191.73,141.90 192.57,125.80 193.40,111.48 194.23,98.75 195.07,87.43 195.90,77.36 196.73,68.41 197.57,60.45 198.40,53.37 199.23,47.08 200.07,41.48 200.90,36.50 201.79,55.47 202.68,71.45 203.57,84.91 204.47,96.25 205.36,105.80 206.25,113.85 207.14,120.63 208.03,126.34 208.93,131.16 209.82,135.21 210.71,138.62 211.60,141.50 212.38,125.57 213.17,111.31 213.95,98.54 214.73,87.10 215.52,76.85 216.30,67.68 217.08,59.46 217.87,52.11 218.65,45.52 219.43,39.62 220.22,34.33 221.00,29.60 222.31,59.07 223.62,81.98 224.93,99.80 226.23,113.65 227.54,124.42 228.85,132.79 230.16,139.31 231.47,144.37 232.77,148.31 234.08,151.37 235.39,153.75 236.70,155.60 237.53,138.07 238.37,122.48 239.20,108.61 240.03,96.29 240.87,85.32 241.70,75.57 242.53,66.90 243.37,59.19 244.20,52.34 245.03,46.24 245.87,40.82 246.70,36.00 247.50,53.10 248.30,67.76 249.10,80.34 249.90,91.12 250.70,100.36 251.50,108.28 252.30,115.08 253.10,120.90 253.90,125.90 254.70,130.18 255.50,133.85 256.30,137.00 257.01,123.14 257.72,110.59 258.43,99.24 259.13,88.96 259.84,79.66 260.55,71.24 261.26,63.62 261.97,56.73 262.68,50.49 263.38,44.84 264.09,39.73 264.80,35.10 266.03,61.78 267.27,82.82 268.50,99.42 269.73,112.51 270.97,122.84 272.20,130.99 273.43,137.42 274.67,142.49 275.90,146.49 277.13,149.65 278.37,152.14 279.60,154.10 280.45,136.25 281.30,120.41 282.15,106.36 283.00,93.90 283.85,82.84 284.70,73.03 285.55,64.32 286.40,56.60 287.25,49.75 288.10,43.68 288.95,38.28 289.80,33.50 290.78,54.93 291.77,72.66 292.75,87.34 293.73,99.49 294.72,109.55 295.70,117.87 296.68,124.76 297.67,130.46 298.65,135.18 299.63,139.09 300.62,142.32 301.60,145.00 302.23,131.53 302.87,119.22 303.50,107.95 304.13,97.64 304.77,88.22 305.40,79.60 306.03,71.71 306.67,64.50 307.30,57.90 307.93,51.87 308.57,46.35 309.20,41.30 310.62,72.04 312.03,95.45 313.45,113.28 314.87,126.85 316.28,137.19 317.70,145.06 319.12,151.06 320.53,155.62 321.95,159.10 323.37,161.75 324.78,163.76 326.20,165.30 327.00,147.91 327.80,132.37 328.60,118.48 329.40,106.08 330.20,95.00 331.00,85.09 331.80,76.25 332.60,68.34 333.40,61.28 334.20,54.97 335.00,49.34 335.80,44.30 336.51,59.28 337.22,72.36 337.93,83.76 338.63,93.72 339.34,102.41 340.05,109.99 340.76,116.61 341.47,122.38 342.18,127.42 342.88,131.81 343.59,135.65 344.30,139.00 344.96,125.73 345.62,113.63 346.27,102.61 346.93,92.56 347.59,83.41 348.25,75.06 348.91,67.45 349.57,60.52 350.23,54.20 350.88,48.44 351.54,43.19 352.20,38.40 353.48,66.44 354.77,88.36 356.05,105.48 357.33,118.85 358.62,129.30 359.90,137.47 361.18,143.85 362.47,148.83 363.75,152.72 365.03,155.77 366.32,158.14 367.60,160.00 368.38,142.79 369.17,127.38 369.95,113.58 370.73,101.22 371.52,90.15 372.30,80.24 373.08,71.37 373.87,63.42 374.65,56.30 375.43,49.92 376.22,44.21 377.00,39.10 377.82,56.39 378.63,71.17 379.45,83.80 380.27,94.59 381.08,103.82 381.90,111.70 382.72,118.44 383.53,124.20 384.35,129.12 385.17,133.33 385.98,136.93 386.80,140.00 387.50,126.30 388.20,113.89 388.90,102.65 389.60,92.46 390.30,83.22 391.00,74.86 391.70,67.27 392.40,60.41 393.10,54.18 393.80,48.54 394.50,43.43 395.20,38.80 396.50,66.87 397.80,88.74 399.10,105.77 400.40,119.03 401.70,129.36 403.00,137.40 404.30,143.66 405.60,148.54 406.90,152.34 408.20,155.30 409.50,157.61 410.80,159.40 411.55,143.75 412.30,129.66 413.05,116.99 413.80,105.58 414.55,95.33 415.30,86.09 416.05,77.79 416.80,70.32 417.55,63.59 418.30,57.54 419.05,52.10 419.80,47.20 420.70,65.70 421.60,81.25 422.50,94.34 423.40,105.34 424.30,114.60 425.20,122.38 426.10,128.93 427.00,134.44 427.90,139.07 428.80,142.97 429.70,146.24 430.60,149.00 431.12,136.97 431.63,125.79 432.15,115.39 432.67,105.72 433.18,96.73 433.70,88.38 434.22,80.60 434.73,73.38 435.25,66.66 435.77,60.41 436.28,54.60 436.80,49.20 438.10,76.06 439.40,96.99 440.70,113.28 442.00,125.97 443.30,135.85 444.60,143.55 445.90,149.54 447.20,154.21 448.50,157.85 449.80,160.68 451.10,162.88 452.40,164.60 453.18,147.41 453.97,132.01 454.75,118.22 455.53,105.87 456.32,94.81 457.10,84.91 457.88,76.04 458.67,68.10 459.45,60.98 460.23,54.61 461.02,48.91 461.80,43.80 462.62,60.39 463.43,74.57 464.25,86.68 465.07,97.04 465.88,105.89 466.70,113.45 467.52,119.92 468.33,125.44 469.15,130.17 469.97,134.20 470.78,137.65 471.60,140.60 472.26,127.12 472.92,114.83 473.58,103.63 474.23,93.42 474.89,84.12 475.55,75.64 476.21,67.91 476.87,60.87 477.52,54.45 478.18,48.60 478.84,43.26 479.50,38.40 480.86,68.54 482.22,91.75 483.57,109.63 484.93,123.39 486.29,133.99 487.65,142.16 489.01,148.44 490.37,153.29 491.73,157.01 493.08,159.89 494.44,162.10 495.80,163.80 496.56,146.89 497.32,131.69 498.07,118.03 498.83,105.76 499.59,94.73 500.35,84.81 501.11,75.90 501.87,67.90 502.62,60.70 503.38,54.23 504.14,48.42 504.90,43.20 505.81,62.19 506.72,78.13 507.62,91.52 508.53,102.76 509.44,112.20 510.35,120.13 511.26,126.78 512.17,132.37 513.07,137.07 513.98,141.01 514.89,144.32 515.80,147.10 516.46,133.67 517.12,121.43 517.77,110.28 518.43,100.11 519.09,90.84 519.75,82.40 520.41,74.70 521.07,67.68 521.73,61.28 522.38,55.46 523.04,50.14 523.70,45.30 524.07,51.53 524.59,60.37 525.19,70.74 525.86,81.53 526.54,91.64 527.20,100.00 527.86,106.68 528.56,112.57 529.28,117.79 529.99,122.46 530.67,126.69 531.30,130.60 531.87,134.02 532.40,136.83 532.89,139.21 533.37,141.31 533.84,143.32 534.30,145.40 534.75,147.49 535.17,149.43 535.58,151.28 536.00,153.08 536.43,154.87 536.90,156.70 537.40,158.57 537.92,160.43 538.46,162.29 539.01,164.14 539.60,165.98 540.20,167.80 540.83,169.61 541.49,171.41 542.17,173.21 542.87,174.99 543.58,176.75 544.30,178.50 545.01,180.20 545.70,181.86 546.41,183.50 547.16,185.16 547.98,186.88 548.90,188.70 549.94,190.65 551.09,192.71 552.30,194.83 553.55,196.96 554.79,199.03 556.00,201.00 557.15,202.85 558.28,204.63 559.40,206.36 560.54,208.07 561.74,209.77 563.00,211.50 564.32,213.26 565.66,215.03 567.06,216.80 568.51,218.56 570.06,220.30 571.70,222.00 573.48,223.68 575.38,225.36 577.36,227.02 579.39,228.63 581.42,230.18 583.40,231.64 585.35,233.04 587.30,234.39 589.25,235.69 591.20,236.89 593.15,238.01 595.10,239.00 597.05,239.85 599.00,240.55 600.95,241.16 602.90,241.71 604.85,242.24 606.80,242.80 608.73,243.38 610.64,243.94 612.55,244.48 614.48,245.01 616.46,245.51 618.50,246.00 620.52,246.45 622.47,246.87 624.47,247.28 626.62,247.67 629.03,248.07 631.80,248.50 635.00,248.96 638.56,249.43 642.37,249.92 646.34,250.40 650.39,250.86 654.40,251.30 658.72,251.73 663.48,252.16 668.31,252.58 672.83,252.95 676.65,253.27 679.40,253.50" stroke="#000" stroke-width="2.05" stroke-dasharray="1.95,2.0"/>
</g>
<rect x="122.6" y="215.9" width="412.69999999999993" height="62.70000000000002" fill="#fff" stroke="#000" stroke-width="1.6"/>
<line x1="129" y1="229.9" x2="166.7" y2="229.9" stroke="#767676" stroke-width="2.1"/>
<line x1="129" y1="258.8" x2="166.7" y2="258.8" stroke="#000" stroke-width="2.1"/>
<line x1="274.8" y1="229.6" x2="312" y2="229.6" stroke="#767676" stroke-width="1.6" stroke-dasharray="5.5,2.4"/>
<line x1="274.8" y1="255.5" x2="312" y2="255.5" stroke="#000" stroke-width="1.7" stroke-dasharray="5.5,2.4"/>
<rect x="418.3" y="223" width="38.7" height="13.7" fill="#dfdfdf"/>
<line x1="418.3" y1="255.4" x2="457" y2="255.4" stroke="#000" stroke-width="2.05" stroke-dasharray="1.95,2.0"/>
<text x="181.5" y="236.0" style="font-family:'Liberation Serif',serif;stroke:#000;stroke-width:0.3px;font-size:18px"><tspan font-style="italic">T</tspan><tspan dy="2" font-size="12.5px">Edge</tspan></text>
<text x="181.5" y="265.4" style="font-family:'Liberation Serif',serif;stroke:#000;stroke-width:0.3px;font-size:18px"><tspan font-style="italic">T</tspan><tspan dy="2" font-size="12.5px">SimEdge</tspan></text>
<text x="326.0" y="236.0" style="font-family:'Liberation Serif',serif;stroke:#000;stroke-width:0.3px;font-size:18px"><tspan font-style="italic">T</tspan><tspan dy="2" font-size="12.5px">Base</tspan></text>
<text x="326.0" y="262.0" style="font-family:'Liberation Serif',serif;stroke:#000;stroke-width:0.3px;font-size:18px"><tspan font-style="italic">T</tspan><tspan dy="2" font-size="12.5px">SimBase</tspan></text>
<text x="470.5" y="235.5" style="font-family:'Liberation Serif',serif;stroke:#000;stroke-width:0.3px;font-size:18px;font-style:italic">Load</text>
<text x="470.5" y="261.7" style="font-family:'Liberation Serif',serif;stroke:#000;stroke-width:0.3px;font-size:18px"><tspan font-style="italic">T</tspan><tspan dy="2" font-size="12.5px">SimZone</tspan></text>
<g stroke="#000" stroke-width="1.8" fill="none">
<path d="M58.6,6.3 V285.0 H680.6"/>
<line x1="58.6" y1="285" x2="58.6" y2="290.6"/>
<line x1="136.3" y1="285" x2="136.3" y2="290.6"/>
<line x1="214.0" y1="285" x2="214.0" y2="290.6"/>
<line x1="291.7" y1="285" x2="291.7" y2="290.6"/>
<line x1="369.4" y1="285" x2="369.4" y2="290.6"/>
<line x1="447.1" y1="285" x2="447.1" y2="290.6"/>
<line x1="524.8" y1="285" x2="524.8" y2="290.6"/>
<line x1="602.5" y1="285" x2="602.5" y2="290.6"/>
<line x1="680.2" y1="285" x2="680.2" y2="290.6"/>
<line x1="52.6" y1="285.1" x2="58.6" y2="285.1"/>
<line x1="52.6" y1="238.6" x2="58.6" y2="238.6"/>
<line x1="52.6" y1="192.2" x2="58.6" y2="192.2"/>
<line x1="52.6" y1="145.7" x2="58.6" y2="145.7"/>
<line x1="52.6" y1="99.2" x2="58.6" y2="99.2"/>
<line x1="52.6" y1="52.8" x2="58.6" y2="52.8"/>
<line x1="52.6" y1="6.3" x2="58.6" y2="6.3"/>
</g>
<text x="58.6" y="310.0" text-anchor="middle" style="font-family:'Liberation Sans',sans-serif;stroke:#000;stroke-width:0.4px;font-size:17.5px">0</text>
<text x="136.3" y="310.0" text-anchor="middle" style="font-family:'Liberation Sans',sans-serif;stroke:#000;stroke-width:0.4px;font-size:17.5px">1</text>
<text x="214.0" y="310.0" text-anchor="middle" style="font-family:'Liberation Sans',sans-serif;stroke:#000;stroke-width:0.4px;font-size:17.5px">2</text>
<text x="291.7" y="310.0" text-anchor="middle" style="font-family:'Liberation Sans',sans-serif;stroke:#000;stroke-width:0.4px;font-size:17.5px">3</text>
<text x="369.4" y="310.0" text-anchor="middle" style="font-family:'Liberation Sans',sans-serif;stroke:#000;stroke-width:0.4px;font-size:17.5px">4</text>
<text x="447.1" y="310.0" text-anchor="middle" style="font-family:'Liberation Sans',sans-serif;stroke:#000;stroke-width:0.4px;font-size:17.5px">5</text>
<text x="524.8" y="310.0" text-anchor="middle" style="font-family:'Liberation Sans',sans-serif;stroke:#000;stroke-width:0.4px;font-size:17.5px">6</text>
<text x="602.5" y="310.0" text-anchor="middle" style="font-family:'Liberation Sans',sans-serif;stroke:#000;stroke-width:0.4px;font-size:17.5px">7</text>
<text x="680.2" y="310.0" text-anchor="middle" style="font-family:'Liberation Sans',sans-serif;stroke:#000;stroke-width:0.4px;font-size:17.5px">8</text>
<text x="46.2" y="291.6" text-anchor="end" style="font-family:'Liberation Sans',sans-serif;stroke:#000;stroke-width:0.4px;font-size:17.5px">30</text>
<text x="46.2" y="245.1" text-anchor="end" style="font-family:'Liberation Sans',sans-serif;stroke:#000;stroke-width:0.4px;font-size:17.5px">40</text>
<text x="46.2" y="198.7" text-anchor="end" style="font-family:'Liberation Sans',sans-serif;stroke:#000;stroke-width:0.4px;font-size:17.5px">50</text>
<text x="46.2" y="152.2" text-anchor="end" style="font-family:'Liberation Sans',sans-serif;stroke:#000;stroke-width:0.4px;font-size:17.5px">60</text>
<text x="46.2" y="105.7" text-anchor="end" style="font-family:'Liberation Sans',sans-serif;stroke:#000;stroke-width:0.4px;font-size:17.5px">70</text>
<text x="46.2" y="59.2" text-anchor="end" style="font-family:'Liberation Sans',sans-serif;stroke:#000;stroke-width:0.4px;font-size:17.5px">80</text>
<text x="46.2" y="12.8" text-anchor="end" style="font-family:'Liberation Sans',sans-serif;stroke:#000;stroke-width:0.4px;font-size:17.5px">90</text>
<text x="369.6" y="333" text-anchor="middle" style="font-family:'Liberation Sans',sans-serif;stroke:#000;stroke-width:0.4px;font-size:18.5px">Time <tspan style="font-family:'Liberation Serif',serif;stroke:#000;stroke-width:0.3px;font-style:italic;font-size:20px">t</tspan> in min</text>
<text transform="translate(13.6,146.6) rotate(-90)" text-anchor="middle" style="font-family:'Liberation Sans',sans-serif;stroke:#000;stroke-width:0.4px;font-size:18.7px">Temperature <tspan style="font-family:'Liberation Serif',serif;stroke:#000;stroke-width:0.3px;font-style:italic;font-size:20px">T</tspan><tspan dy="2.2" style="font-family:'Liberation Serif',serif;stroke:#000;stroke-width:0.3px;font-size:13px">Sim</tspan><tspan dy="-2.2"> in °C</tspan></text>
</svg>
</body></html>
